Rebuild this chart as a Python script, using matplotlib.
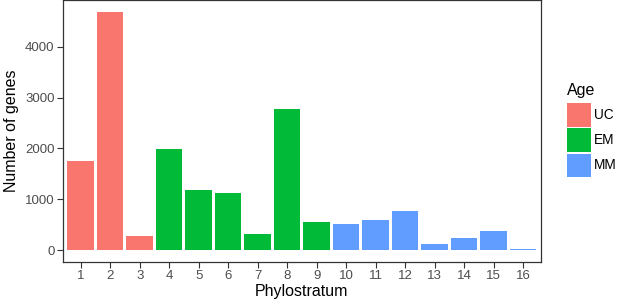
import matplotlib
matplotlib.use("Agg")
import matplotlib.pyplot as plt
from matplotlib.patches import Rectangle

phylostrata = list(range(1, 17))
genes = [1755, 4678, 280, 1980, 1182, 1117, 314, 2771, 549, 522, 588, 765, 118, 235, 378, 31]
ages = ["UC", "UC", "UC", "EM", "EM", "EM", "EM", "EM", "EM", "MM", "MM", "MM", "MM", "MM", "MM", "MM"]
age_levels = ["UC", "EM", "MM"]
age_colors = {"UC": "#F8766D", "EM": "#00BA38", "MM": "#619CFF"}

plt.rcParams['font.family'] = ['Liberation Sans', 'DejaVu Sans']

W, H = 617, 303
fig = plt.figure(figsize=(W/100, H/100), dpi=100)
ax = fig.add_axes([63/W, 41/H, (540.7-63)/W, 262/H - 0.001])

ax.bar(phylostrata, genes, width=0.9, color=[age_colors[a] for a in ages], edgecolor='none')

ymax = max(genes)
ax.set_xlim(0.4, 16.6)
ax.set_ylim(-0.05*ymax, ymax*1.05)
ax.set_xticks(phylostrata)
ax.set_xticklabels([str(p) for p in phylostrata])
ax.set_yticks([0, 1000, 2000, 3000, 4000])
ax.tick_params(axis='both', direction='out', length=4, width=0.8, color='#333333',
               labelcolor='#4D4D4D', labelsize=9.5, pad=2)
for s in ax.spines.values():
    s.set_color('#333333')
    s.set_linewidth(0.9)
ax.set_xlabel("Phylostratum", fontsize=11.5, color='black', labelpad=1)
ax.set_ylabel("Number of genes", fontsize=11.5, color='black', labelpad=4)

# legend (manual, ggplot style)
def fx(px):
    return px / W
def fy(py):
    return 1 - py / H

fig.text(fx(567), fy(95), "Age", fontsize=11.5, color='black', va='baseline', ha='left')
key_top = 103
key_h = 23.5
key_step = 25.3
for i, lvl in enumerate(age_levels):
    top = key_top + i * key_step
    fig.patches.append(Rectangle((fx(567), fy(top + key_h)), 24/W, key_h/H,
                                 transform=fig.transFigure, facecolor=age_colors[lvl],
                                 edgecolor='none'))
    fig.text(fx(594), fy(top + key_h/2), lvl, fontsize=9.8, color='black',
             va='center', ha='left')

fig.savefig("out.png", dpi=100)
